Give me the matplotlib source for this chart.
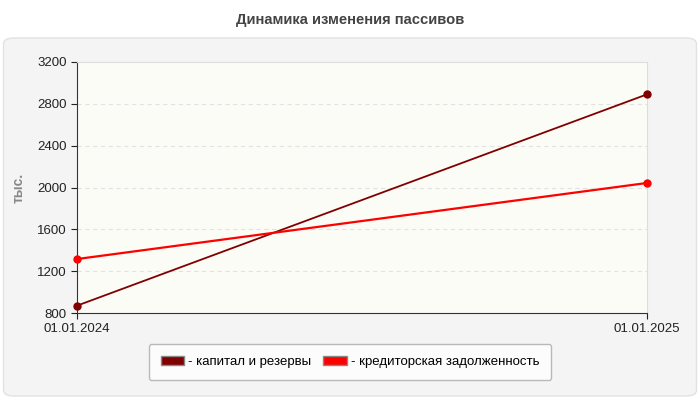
import matplotlib.pyplot as plt
from matplotlib.patches import FancyBboxPatch, Patch

plt.rcParams['font.family'] = ['Liberation Sans', 'DejaVu Sans']

dates = ["01.01.2024", "01.01.2025"]
capital = [870, 2890]
credit = [1316, 2043]
yticks = [800, 1200, 1600, 2000, 2400, 2800, 3200]

fig = plt.figure(figsize=(7, 4), dpi=100)
fig.patch.set_facecolor('white')

# grey panel behind the chart
panel = FancyBboxPatch((0.005, 0.01), 0.99, 0.895, boxstyle="round,pad=0,rounding_size=0.015",
                       transform=fig.transFigure, facecolor='#f4f4f4', edgecolor='#e2e2e2', lw=1,
                       zorder=-10)
fig.patches.append(panel)

fig.text(0.5, 0.95, "Динамика изменения пассивов", ha='center', va='center',
         fontsize=10.6, fontweight='bold', color='#444444')

ax = fig.add_axes([0.11, 0.2175, 0.814, 0.6275])
ax.set_facecolor('#fcfcf7')

x = [0, 1]
ax.plot(x, capital, color='#800000', lw=1.3, marker='o', ms=5, label="- капитал и резервы",
        zorder=3, clip_on=False)
ax.plot(x, credit, color='#ff0000', lw=1.6, marker='o', ms=5, label="- кредиторская задолженность",
        zorder=3, clip_on=False)

ax.set_xlim(0, 1)
ax.set_ylim(800, 3200)
ax.set_yticks(yticks)
ax.set_xticks(x)
ax.set_xticklabels(dates)
ax.tick_params(axis='both', labelsize=9.5, colors='#222222', length=4, width=0.8)
for y in yticks[1:-1]:
    ax.axhline(y, color='#e2e2e2', lw=0.8, ls=(0, (4, 3)), zorder=1)

for s in ['top', 'right']:
    ax.spines[s].set_color('#dddddd')
    ax.spines[s].set_linewidth(0.8)
for s in ['left', 'bottom']:
    ax.spines[s].set_color('#333333')
    ax.spines[s].set_linewidth(0.8)

ax.set_ylabel("тыс.", fontsize=10, fontweight='bold', color='#888888', labelpad=8)

handles = [Patch(facecolor='#800000', edgecolor='#888888', label="- капитал и резервы"),
           Patch(facecolor='#ff0000', edgecolor='#888888', label="- кредиторская задолженность")]
leg = fig.legend(handles=handles, loc='center', bbox_to_anchor=(0.5, 0.095), ncol=2,
                 fontsize=9.5, frameon=True, fancybox=True, handlelength=1.8, handleheight=0.7,
                 handletextpad=0.3, columnspacing=0.9, borderpad=0.9)
leg.get_frame().set_facecolor('white')
leg.get_frame().set_edgecolor('#aaaaaa')

fig.savefig("out.png", dpi=100)
